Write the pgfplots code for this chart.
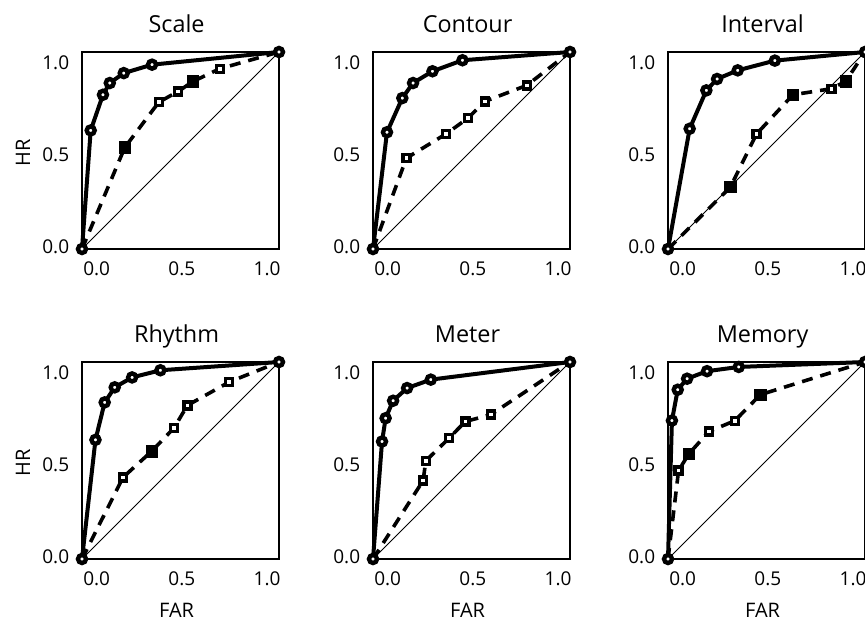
\documentclass[border=0pt]{standalone}
\usepackage{fontspec}
\setmainfont{Open Sans}
\usepackage{pgfplots}
\pgfplotsset{compat=1.18}

% tick coordinates; the box runs a bit past 0 and 1 as in the original figure
\pgfplotsset{
  roc/.style={
    scale only axis, width=98.5pt, height=98.5pt,
    anchor=south west,
    xmin=-0.086, xmax=1.07, ymin=-0.013, ymax=1.06,
    xtick={0,0.5,1}, ytick={0,0.5,1},
    xticklabels={0.0,0.5,1.0}, yticklabels={0.0,0.5,1.0},
    major tick length=0pt,
    clip=false,
    axis line style={line width=0.8pt},
    tick label style={font=\fontsize{9.5}{11}\selectfont},
    label style={font=\fontsize{11.7}{14}\selectfont},
    every axis title shift=0pt,
    title style={font=\fontsize{11.7}{14}\selectfont,
      at={(axis description cs:0.48,1.10)}, anchor=base},
    xticklabel style={yshift=-2.9pt},
    yticklabel style={xshift=-2.9pt},
    every axis y label/.style={at={(axis description cs:-0.30,0.49)}, rotate=90, anchor=center},
    every axis x label/.style={at={(axis description cs:0.48,-0.262)}, anchor=center},
  },
  diag/.style={black, line width=0.5pt},
  hit/.style={black, line width=2pt, mark=*, mark size=2pt,
    mark options={fill=white, line width=2.2pt}},
  fa/.style={black, line width=1.8pt, dash pattern=on 5.5pt off 4pt},
  sqopen/.style={only marks, mark=square*, mark size=1.75pt,
    mark options={fill=white, draw=black, line width=1.7pt}},
  sqfill/.style={only marks, mark=square*, mark size=2.8pt,
    mark options={fill=black, draw=black}},
}

\begin{document}
\begin{tikzpicture}

% ---- Scale
\begin{axis}[roc, at={(0pt,0pt)}, title={Scale}, ylabel={HR}]
\addplot[diag] coordinates {(-0.086,-0.013)(1.07,1.06)};
\addplot[fa] coordinates {(-0.086,-0.013)(0.165,0.540)(0.365,0.787)(0.478,0.845)(0.566,0.900)(0.723,0.969)(1.07,1.06)};
\addplot[sqopen] coordinates {(0.365,0.787)(0.478,0.845)(0.723,0.969)};
\addplot[sqfill] coordinates {(0.165,0.540)(0.566,0.900)};
\addplot[hit] coordinates {(-0.086,-0.013)(-0.035,0.633)(0.037,0.827)(0.077,0.891)(0.159,0.945)(0.325,0.991)(1.07,1.06)};
\end{axis}

% ---- Contour
\begin{axis}[roc, at={(145.5pt,0pt)}, title={Contour}]
\addplot[diag] coordinates {(-0.086,-0.013)(1.07,1.06)};
\addplot[fa] coordinates {(-0.086,-0.013)(0.110,0.482)(0.341,0.613)(0.472,0.700)(0.570,0.791)(0.816,0.878)(1.07,1.06)};
\addplot[sqopen] coordinates {(0.110,0.482)(0.341,0.613)(0.472,0.700)(0.570,0.791)(0.816,0.878)};
\addplot[hit] coordinates {(-0.086,-0.013)(-0.004,0.623)(0.086,0.809)(0.149,0.891)(0.263,0.955)(0.439,1.015)(1.07,1.06)};
\end{axis}

% ---- Interval
\begin{axis}[roc, at={(293pt,0pt)}, title={Interval}]
\addplot[diag] coordinates {(-0.086,-0.013)(1.07,1.06)};
\addplot[fa] coordinates {(-0.086,-0.013)(0.280,0.324)(0.433,0.613)(0.647,0.827)(0.873,0.860)(0.957,0.900)(1.07,1.06)};
\addplot[sqopen] coordinates {(0.433,0.613)(0.873,0.860)};
\addplot[sqfill] coordinates {(0.280,0.324)(0.647,0.827)(0.957,0.900)};
\addplot[hit] coordinates {(-0.086,-0.013)(0.041,0.642)(0.139,0.851)(0.202,0.913)(0.323,0.960)(0.541,1.013)(1.07,1.06)};
\end{axis}

% ---- Rhythm
\begin{axis}[roc, at={(0pt,-155pt)}, title={Rhythm}, ylabel={HR}, xlabel={FAR}]
\addplot[diag] coordinates {(-0.086,-0.013)(1.07,1.06)};
\addplot[fa] coordinates {(-0.086,-0.013)(0.155,0.432)(0.322,0.573)(0.453,0.700)(0.533,0.824)(0.778,0.951)(1.07,1.06)};
\addplot[sqopen] coordinates {(0.155,0.432)(0.453,0.700)(0.533,0.824)(0.778,0.951)};
\addplot[sqfill] coordinates {(0.322,0.573)};
\addplot[hit] coordinates {(-0.086,-0.013)(-0.007,0.636)(0.047,0.840)(0.106,0.922)(0.208,0.976)(0.374,1.015)(1.07,1.06)};
\end{axis}

% ---- Meter
\begin{axis}[roc, at={(145.5pt,-155pt)}, title={Meter}, xlabel={FAR}]
\addplot[diag] coordinates {(-0.086,-0.013)(1.07,1.06)};
\addplot[fa] coordinates {(-0.086,-0.013)(0.208,0.414)(0.224,0.522)(0.360,0.645)(0.456,0.736)(0.605,0.773)(1.07,1.06)};
\addplot[sqopen] coordinates {(0.208,0.414)(0.224,0.522)(0.360,0.645)(0.456,0.736)(0.605,0.773)};
\addplot[hit] coordinates {(-0.086,-0.013)(-0.033,0.627)(-0.012,0.754)(0.032,0.849)(0.114,0.918)(0.253,0.964)(1.07,1.06)};
\end{axis}

% ---- Memory
\begin{axis}[roc, at={(293pt,-155pt)}, title={Memory}, xlabel={FAR}]
\addplot[diag] coordinates {(-0.086,-0.013)(1.07,1.06)};
\addplot[fa] coordinates {(-0.086,-0.013)(-0.024,0.469)(0.035,0.558)(0.153,0.681)(0.306,0.740)(0.456,0.882)(1.07,1.06)};
\addplot[sqopen] coordinates {(-0.024,0.469)(0.153,0.681)(0.306,0.740)};
\addplot[sqfill] coordinates {(0.035,0.558)(0.456,0.882)};
\addplot[hit] coordinates {(-0.086,-0.013)(-0.063,0.741)(-0.029,0.909)(0.026,0.969)(0.143,1.010)(0.329,1.033)(1.07,1.06)};
\end{axis}

\pgfresetboundingbox
\path[use as bounding box] (-41pt,-185.5pt) rectangle (391.5pt,124.5pt);
\end{tikzpicture}
\end{document}
